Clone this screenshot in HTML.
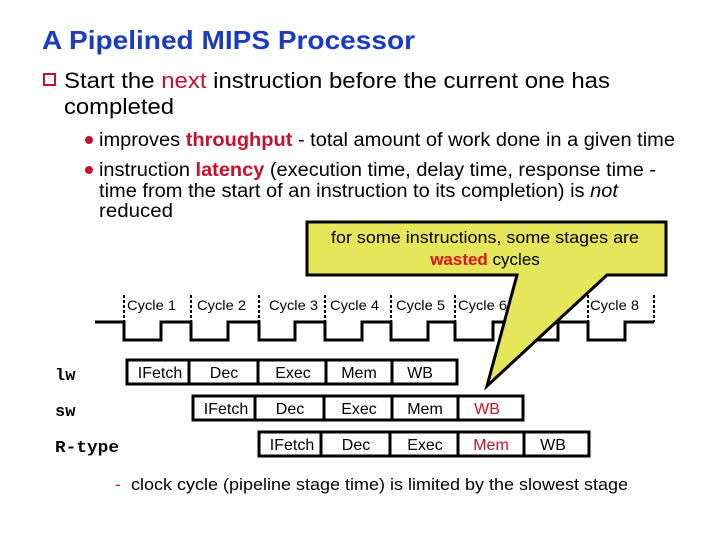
<!DOCTYPE html>
<html><head><meta charset="utf-8"><style>
body{margin:0;width:720px;height:540px;background:#fff;overflow:hidden;font-family:"Liberation Sans",Arial,sans-serif;}
</style></head><body>
<svg width="720" height="540" xmlns="http://www.w3.org/2000/svg" font-family="Liberation Sans, Arial, sans-serif">
<text x="42" y="49" font-size="26" font-weight="bold" fill="#1a3cc0" textLength="373" lengthAdjust="spacingAndGlyphs">A Pipelined MIPS Processor</text>
<rect x="44" y="74" width="11" height="11" fill="none" stroke="#c8102e" stroke-width="2"/>
<text x="64" y="88" font-size="22" textLength="546" lengthAdjust="spacingAndGlyphs">Start the <tspan fill="#c8102e">next</tspan> instruction before the current one has</text>
<text x="64" y="114" font-size="22" textLength="110" lengthAdjust="spacingAndGlyphs">completed</text>
<circle cx="89" cy="140" r="4" fill="#c8102e"/>
<text x="99" y="146" font-size="19" textLength="576" lengthAdjust="spacingAndGlyphs">improves <tspan fill="#c8102e" font-weight="bold">throughput</tspan> - total amount of work done in a given time</text>
<circle cx="89" cy="170" r="4" fill="#c8102e"/>
<text x="99" y="176" font-size="19" textLength="557" lengthAdjust="spacingAndGlyphs">instruction <tspan fill="#c8102e" font-weight="bold">latency</tspan> (execution time, delay time, response time -</text>
<text x="99" y="197" font-size="19" textLength="519" lengthAdjust="spacingAndGlyphs">time from the start of an instruction to its completion) is <tspan font-style="italic">not</tspan></text>
<text x="99" y="217" font-size="19" textLength="74" lengthAdjust="spacingAndGlyphs">reduced</text>

<polyline fill="none" stroke="#000" stroke-width="3" points="95,322 124,322 124,340 161,340 161,322 191,322 191,340 228,340 228,322 259,322 259,340 295,340 295,322 325,322 325,340 362,340 362,322 391,322 391,340 428,340 428,322 455,322 455,340 493,340 493,322 521,322 521,340 558,340 558,322 588,322 588,340 625,340 625,322 654,322"/>
<g stroke="#000" stroke-width="2" stroke-dasharray="3,2">
<line x1="124" y1="295" x2="124" y2="322"/><line x1="191" y1="295" x2="191" y2="322"/>
<line x1="259" y1="295" x2="259" y2="322"/><line x1="325" y1="295" x2="325" y2="322"/>
<line x1="391" y1="295" x2="391" y2="322"/><line x1="455" y1="295" x2="455" y2="322"/>
<line x1="588" y1="295" x2="588" y2="322"/><line x1="654" y1="295" x2="654" y2="322"/>
</g>
<g font-size="14">
<text x="127" y="310" textLength="49" lengthAdjust="spacingAndGlyphs">Cycle 1</text><text x="197" y="310" textLength="49" lengthAdjust="spacingAndGlyphs">Cycle 2</text>
<text x="269" y="310" textLength="49" lengthAdjust="spacingAndGlyphs">Cycle 3</text><text x="330" y="310" textLength="49" lengthAdjust="spacingAndGlyphs">Cycle 4</text>
<text x="396" y="310" textLength="49" lengthAdjust="spacingAndGlyphs">Cycle 5</text><text x="458" y="310" textLength="49" lengthAdjust="spacingAndGlyphs">Cycle 6</text>
<text x="590" y="310" textLength="49" lengthAdjust="spacingAndGlyphs">Cycle 8</text>
</g>

<path d="M307,222 L666,222 L666,275 L607,275 L487,386 L517,275 L307,275 Z" fill="#e6e65a" stroke="#000" stroke-width="3"/>
<text x="485" y="243" font-size="17" text-anchor="middle" textLength="308" lengthAdjust="spacingAndGlyphs">for some instructions, some stages are</text>
<text x="485" y="265" font-size="17" text-anchor="middle"><tspan fill="#e0101a" font-weight="bold">wasted</tspan> cycles</text>

<g font-family="Liberation Mono, monospace" font-size="17" font-weight="bold">
<text x="55" y="380">lw</text><text x="55" y="416">sw</text><text x="55" y="452" textLength="64" lengthAdjust="spacingAndGlyphs">R-type</text>
</g>
<g stroke="#000" stroke-width="3" fill="none">
<rect x="127" y="360" width="330" height="24"/>
<line x1="189" y1="360" x2="189" y2="384"/><line x1="258" y1="360" x2="258" y2="384"/><line x1="326" y1="360" x2="326" y2="384"/><line x1="392" y1="360" x2="392" y2="384"/>
<rect x="193" y="396" width="330" height="24"/>
<line x1="255" y1="396" x2="255" y2="420"/><line x1="324" y1="396" x2="324" y2="420"/><line x1="392" y1="396" x2="392" y2="420"/><line x1="458" y1="396" x2="458" y2="420"/>
<rect x="259" y="432" width="330" height="24"/>
<line x1="321" y1="432" x2="321" y2="456"/><line x1="390" y1="432" x2="390" y2="456"/><line x1="458" y1="432" x2="458" y2="456"/><line x1="524" y1="432" x2="524" y2="456"/>
</g>
<g font-size="16" text-anchor="middle">
<text x="160" y="378">IFetch</text><text x="224" y="378">Dec</text><text x="293" y="378">Exec</text><text x="359" y="378">Mem</text><text x="420" y="378">WB</text>
<text x="226" y="414">IFetch</text><text x="290" y="414">Dec</text><text x="359" y="414">Exec</text><text x="425" y="414">Mem</text><text x="487" y="414" fill="#c8102e">WB</text>
<text x="292" y="450">IFetch</text><text x="356" y="450">Dec</text><text x="425" y="450">Exec</text><text x="491" y="450" fill="#c8102e">Mem</text><text x="553" y="450">WB</text>
</g>
<text x="115" y="490" font-size="17" fill="#c8102e">-</text>
<text x="131" y="490" font-size="17" textLength="497" lengthAdjust="spacingAndGlyphs">clock cycle (pipeline stage time) is limited by the slowest stage</text>
</svg>
</body></html>
